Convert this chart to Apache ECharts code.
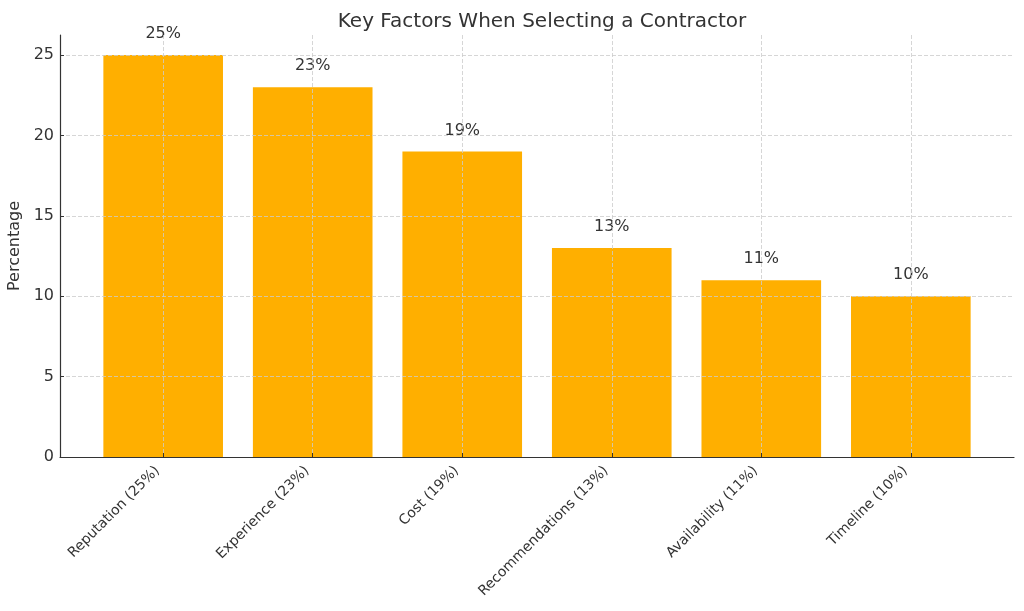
<!DOCTYPE html>
<html>
<head>
<meta charset="utf-8">
<script src="https://cdn.jsdelivr.net/npm/echarts@6/dist/echarts.min.js"></script>
<style>
  html, body { margin: 0; padding: 0; background: #fff; }
  #chart { width: 1024px; height: 611px; }
</style>
</head>
<body>
<div id="chart"></div>
<script>
const categories = ['Reputation (25%)', 'Experience (23%)', 'Cost (19%)', 'Recommendations (13%)', 'Availability (11%)', 'Timeline (10%)']
const percentages = [25, 23, 19, 13, 11, 10]
const yTicks = [0, 5, 10, 15, 20, 25]
const xTicks = categories.map((_, i) => i)

const font = 'DejaVu Sans'
const ink = '#333333'
const gridLine = { show: true, lineStyle: { color: '#cccccc', type: [4, 2], width: 0.8 } }

const chart = echarts.init(document.getElementById('chart'))
chart.setOption({
  animation: false,
  textStyle: { fontFamily: font },
  title: {
    text: 'Key Factors When Selecting a Contractor',
    left: 537,
    top: 7,
    textAlign: 'center',
    textStyle: { fontFamily: font, fontSize: 20, fontWeight: 'normal', color: ink },
  },
  grid: { left: 60, right: 10, top: 35, bottom: 154, outerBoundsMode: 'none' },
  xAxis: {
    type: 'value',
    min: -0.69,
    max: 5.69,
    z: 5,
    axisLine: { show: true, onZero: false, lineStyle: { color: ink, width: 1.2 } },
    axisTick: { show: true, inside: true, length: 4, customValues: xTicks, lineStyle: { color: ink } },
    axisLabel: {
      customValues: xTicks,
      rotate: 45,
      margin: 6,
      padding: [0, 8, 0, 0],
      fontSize: 14,
      color: ink,
      formatter: (v) => categories[Math.round(v)] ?? '',
    },
    splitLine: gridLine,
  },
  yAxis: {
    type: 'value',
    min: 0,
    max: 26.25,
    z: 5,
    name: 'Percentage',
    nameLocation: 'middle',
    nameGap: 32,
    nameTextStyle: { fontSize: 16, color: ink, fontFamily: font },
    axisLine: { show: true, onZero: false, lineStyle: { color: ink, width: 1.2 } },
    axisTick: { show: true, inside: true, length: 4, customValues: yTicks, lineStyle: { color: ink } },
    axisLabel: { customValues: yTicks, fontSize: 16, color: ink, margin: 6 },
    splitLine: gridLine,
  },
  series: [{
    type: 'bar',
    barWidth: '80%',
    data: percentages.map((v, i) => [i, v]),
    itemStyle: { color: '#ffaf00' },
    label: {
      show: true,
      position: 'top',
      distance: 13,
      fontSize: 16,
      color: ink,
      formatter: (p) => p.value[1] + '%',
    },
  }],
})
</script>
</body>
</html>
